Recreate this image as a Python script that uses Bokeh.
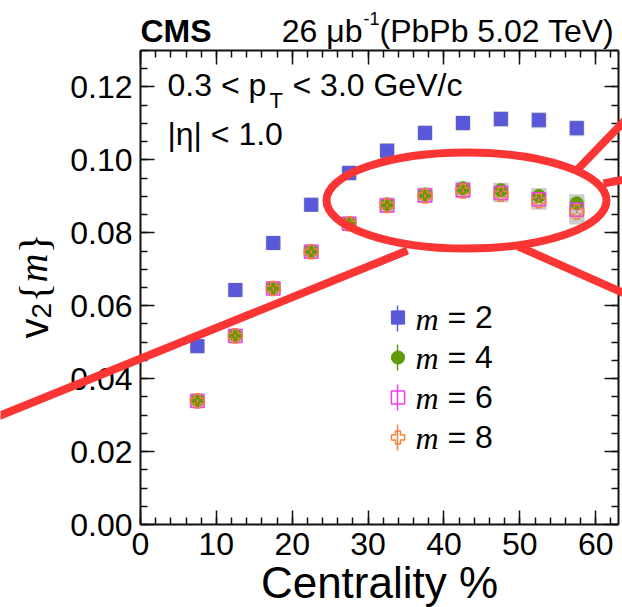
import math

from bokeh.embed import file_html
from bokeh.resources import INLINE
from bokeh.plotting import figure
from bokeh.models import (Range1d, LinearAxis, SingleIntervalTicker, PrintfTickFormatter,
                          CustomLabelingPolicy, Label, Legend, LegendItem, Arrow,
                          ColumnDataSource)

# ---- data: elliptic flow v2{m} vs centrality ----
cent = [7.5, 12.5, 17.5, 22.5, 27.5, 32.5, 37.5, 42.5, 47.5, 52.5, 57.5]
cent_halfwidth = [1.0] * 11

v2_m2 = [0.0489, 0.0643, 0.0772, 0.0877, 0.0964, 0.1025, 0.1074, 0.1101, 0.1112, 0.1109, 0.1087]
v2_m4 = [0.0341, 0.0519, 0.0649, 0.0750, 0.0827, 0.0878, 0.0905, 0.0922, 0.0917, 0.0901, 0.0881]
v2_m6 = [0.0339, 0.0517, 0.0647, 0.0748, 0.0825, 0.0875, 0.0902, 0.0917, 0.0909, 0.0892, 0.0863]
v2_m8 = [0.0339, 0.0517, 0.0647, 0.0748, 0.0825, 0.0875, 0.0901, 0.0915, 0.0906, 0.0888, 0.0858]

sys_m2 = [0.0020, 0.0020, 0.0020, 0.0020, 0.0021, 0.0021, 0.0021, 0.0021, 0.0022, 0.0022, 0.0022]
sys_m4 = [0.0018, 0.0018, 0.0018, 0.0018, 0.0018, 0.0019, 0.0019, 0.0019, 0.0020, 0.0022, 0.0025]
sys_m6 = [0.0018, 0.0018, 0.0018, 0.0018, 0.0018, 0.0019, 0.0019, 0.0020, 0.0021, 0.0024, 0.0033]
sys_m8 = [0.0018, 0.0018, 0.0018, 0.0018, 0.0018, 0.0019, 0.0019, 0.0020, 0.0022, 0.0025, 0.0035]

stat_m2 = [0.0002] * 11
stat_m4 = [0.0003] * 11
stat_m6 = [0.0004] * 11
stat_m8 = [0.0005] * 11

x_ticks_interval = 10
y_ticks_interval = 0.02

series = [
    ("= 2", v2_m2, sys_m2, stat_m2, dict(marker="square", size=13, fill_color="#5858d8", line_color="#5858d8"), "#5858d8"),
    ("= 4", v2_m4, sys_m4, stat_m4, dict(marker="circle", size=13, fill_color="#5f9a08", line_color="#5f9a08"), "#5f9a08"),
    ("= 6", v2_m6, sys_m6, stat_m6, dict(marker="square", size=13, fill_color=None, line_color="#f03cf0", line_width=1.5), "#f03cf0"),
    ("= 8", v2_m8, sys_m8, stat_m8, dict(marker="plus", size=14, fill_color=None, line_color="#f4823c", line_width=1.5), "#f4823c"),
]

# ---- canvas geometry: the plotting box sits inside a full-canvas frame ----
W, H = 622, 607
FL, FR, FT, FB = 140, 618, 50, 524
X0, X1 = 0.0, 63.0
Y0, Y1 = 0.0, 0.13


def dx(px):
    return X0 + (px - FL) / (FR - FL) * (X1 - X0)


def dy(py):
    return Y0 + (FB - py) / (FB - FT) * (Y1 - Y0)


FONT = "Liberation Sans"
SERIF = "Liberation Serif"
INK = "#111111"

p = figure(width=W, height=H, output_backend="svg", toolbar_location=None,
           x_range=Range1d(dx(0), dx(W)), y_range=Range1d(dy(H), dy(0)),
           x_axis_location=None, y_axis_location=None,
           min_border=0, min_border_left=0, min_border_right=0,
           min_border_top=0, min_border_bottom=0)
p.background_fill_color = "white"
p.border_fill_color = "white"
p.outline_line_color = None
p.xgrid.visible = False
p.ygrid.visible = False


def make_axis(ticker, loc, bounds, show_labels):
    ax = LinearAxis(ticker=ticker, fixed_location=loc, bounds=bounds)
    ax.axis_line_color = INK
    ax.axis_line_width = 2
    ax.major_tick_line_color = INK
    ax.minor_tick_line_color = INK
    ax.major_tick_line_width = 1.5
    ax.minor_tick_line_width = 1.5
    ax.major_tick_in = 14
    ax.major_tick_out = 0
    ax.minor_tick_in = 7
    ax.minor_tick_out = 0
    ax.major_label_text_font = FONT
    ax.major_label_text_font_size = "32px"
    ax.major_label_text_color = "black"
    ax.major_label_standoff = 8
    if not show_labels:
        # tick marks only on the top and right edges
        ax.major_label_policy = CustomLabelingPolicy(code="return new Set()")
    return ax


def xticker():
    return SingleIntervalTicker(interval=x_ticks_interval, num_minor_ticks=5)


def yticker():
    return SingleIntervalTicker(interval=y_ticks_interval, num_minor_ticks=4)


bottom_axis = make_axis(xticker(), Y0, (X0, X1), True)
bottom_axis.formatter = PrintfTickFormatter(format="%d")
bottom_axis.axis_label = "Centrality %"
bottom_axis.axis_label_text_font = FONT
bottom_axis.axis_label_text_font_size = "44px"
bottom_axis.axis_label_text_font_style = "normal"
bottom_axis.axis_label_text_color = "black"
bottom_axis.axis_label_standoff = 0

left_axis = make_axis(yticker(), X0, (Y0, Y1), True)
left_axis.formatter = PrintfTickFormatter(format="%.2f")

top_axis = make_axis(xticker(), Y1, (X0, X1), False)
right_axis = make_axis(yticker(), X1, (Y0, Y1), False)

p.add_layout(bottom_axis, "below")
p.add_layout(left_axis, "left")
p.add_layout(top_axis, "above")
p.add_layout(right_axis, "right")

# ---- systematic boxes ----
for _, vals, sys, _, _, _ in series:
    src = ColumnDataSource(dict(
        left=[c - w for c, w in zip(cent, cent_halfwidth)],
        right=[c + w for c, w in zip(cent, cent_halfwidth)],
        bottom=[v - s for v, s in zip(vals, sys)],
        top=[v + s for v, s in zip(vals, sys)],
    ))
    p.quad(left="left", right="right", bottom="bottom", top="top", source=src,
           fill_color="#c8c8c8", fill_alpha=0.9, line_color=None)

# ---- points with statistical bars ----
legend_items = []
for label, vals, _, stat, mstyle, col in series:
    src = ColumnDataSource(dict(
        x=cent, y=vals,
        lo=[v - e for v, e in zip(vals, stat)],
        hi=[v + e for v, e in zip(vals, stat)],
    ))
    p.segment(x0="x", x1="x", y0="lo", y1="hi", source=src, line_color=col, line_width=1.5)
    r = p.scatter(x="x", y="y", source=src, **mstyle)
    legend_items.append(LegendItem(label=label, renderers=[r]))

# ---- legend ----
LEG_X = 397
LEG_Y = [318, 357, 397, 437]
GW, GH = 33, 40
legend = Legend(items=legend_items, location=(LEG_X - GW / 2, H - (LEG_Y[-1] + GH / 2)),
                glyph_width=GW, glyph_height=GH, label_height=GH, spacing=0,
                padding=0, margin=0, label_standoff=34,
                label_text_font=FONT, label_text_font_size="32px",
                label_text_color="black", label_text_baseline="middle",
                border_line_alpha=0, background_fill_alpha=0)
p.add_layout(legend, "center")

for ly, (_, _, _, _, _, col) in zip(LEG_Y, series):
    p.add_layout(Arrow(end=None, x_start=dx(LEG_X), x_end=dx(LEG_X),
                       y_start=dy(ly - 13), y_end=dy(ly + 13),
                       line_color=col, line_width=1.5))
    p.add_layout(Label(x=dx(415), y=dy(ly), text="m", text_font=SERIF,
                       text_font_style="italic", text_font_size="32px",
                       text_color="black", text_baseline="middle", text_align="left"))


# ---- texts ----
def put(text, px, py, size="32px", font=FONT, style="normal", align="left", angle=0.0):
    p.add_layout(Label(x=dx(px), y=dy(py), text=text, text_font=font,
                       text_font_style=style, text_font_size=size, text_color="black",
                       text_align=align, text_baseline="alphabetic", angle=angle))


put("CMS", 140, 30, style="bold")
put("26 \u03bcb", 362, 30, align="right")
put("-1", 363, 18, size="18px")
put("(PbPb 5.02 TeV)", 379, 30)

put("0.3 < p", 167, 84)
put("T", 269, 100, size="22px")
put("< 3.0 GeV/c", 292, 84)
put("|\u03b7| < 1.0", 167, 133)

# rotated y-axis title v2{m}
put("v", 33, 338, size="40px", angle=math.pi / 2)
put("2", 41, 318, size="28px", angle=math.pi / 2)
put("{", 33, 302, size="42px", font=SERIF, angle=math.pi / 2)
put("m", 33, 282, size="40px", font=SERIF, style="italic", angle=math.pi / 2)
put("}", 33, 253, size="42px", font=SERIF, angle=math.pi / 2)

# ---- red highlight: ellipse and pointer lines ----
RED = "#fb3434"
p.ellipse(x=[dx(466)], y=[dy(200)], width=[280], height=[96],
          width_units="screen", height_units="screen",
          fill_color=None, line_color=RED, line_width=8)

for (xa, ya), (xb, yb) in [((-10, 419), (407, 250)),
                           ((518, 246), (640, 300)),
                           ((578, 168), (640, 104)),
                           ((603, 183), (640, 176))]:
    p.add_layout(Arrow(end=None, x_start=dx(xa), y_start=dy(ya), x_end=dx(xb), y_end=dy(yb),
                       line_color=RED, line_width=8))

open("out.html", "w").write(file_html(p, INLINE))
